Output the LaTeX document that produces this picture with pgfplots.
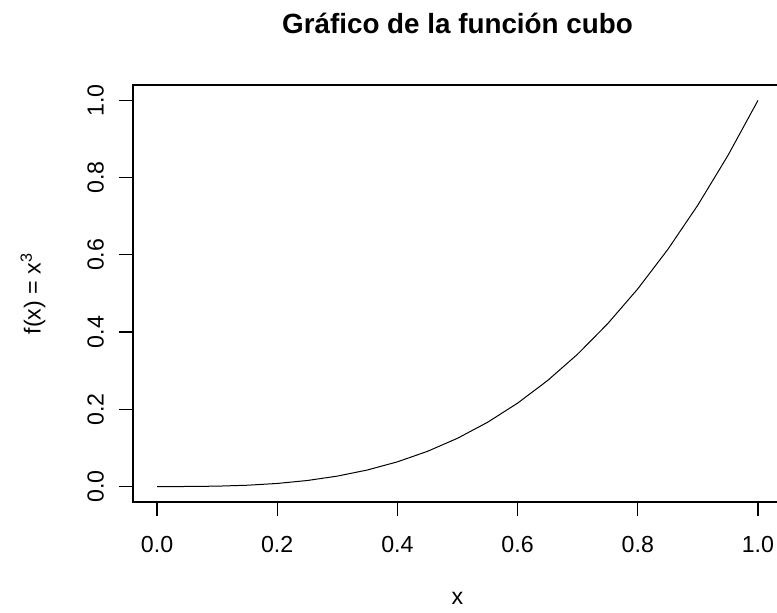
\documentclass[border=0pt]{standalone}
\usepackage{pgfplots}
\pgfplotsset{compat=1.18}
\usepackage{fontspec}
\setmainfont{Liberation Sans}
\begin{document}
\begin{tikzpicture}
% 1 px of the reference = 0.5pt
\begin{axis}[
    at={(66.5pt,55.5pt)}, anchor=south west,
    scale only axis,
    width=324.5pt, height=208.5pt,
    xmin=-0.04, xmax=1.04,
    ymin=-0.04, ymax=1.04,
    xtick={0,0.2,...,1.0}, ytick={0,0.2,...,1.0},
    xtick pos=bottom, ytick pos=left,
    tick align=outside,
    major tick length=7pt,
    axis line style={line width=0.6pt},
    every tick/.style={black, line width=0.6pt},
    /pgf/number format/.cd, fixed, fixed zerofill, precision=1, assume math mode=true,
    /pgfplots/.cd,
    tick label style={font=\fontsize{11.6}{13}\selectfont},
    yticklabel style={rotate=90, anchor=south},
    yticklabel shift=4pt,
    xticklabel style={yshift=-6.5pt},
    title={Gráfico de la función cubo},
    title style={font=\fontsize{13.9}{15}\selectfont\bfseries, at={(axis description cs:0.5,1.12)}, anchor=center},
    xlabel={x},
    xlabel style={font=\fontsize{11.6}{13}\selectfont, at={(axis description cs:0.5,-0.232)}, anchor=center},
    ylabel={f(x) = x\textsuperscript{3}},
    ylabel style={font=\fontsize{11.6}{13}\selectfont, at={(axis description cs:-0.154,0.5)}, anchor=center, rotate=0},
]
\addplot[black, line width=0.5pt] coordinates {
    (0.00,0.000000) (0.05,0.000125) (0.10,0.001000) (0.15,0.003375)
    (0.20,0.008000) (0.25,0.015625) (0.30,0.027000) (0.35,0.042875)
    (0.40,0.064000) (0.45,0.091125) (0.50,0.125000) (0.55,0.166375)
    (0.60,0.216000) (0.65,0.274625) (0.70,0.343000) (0.75,0.421875)
    (0.80,0.512000) (0.85,0.614125) (0.90,0.729000) (0.95,0.857375)
    (1.00,1.000000)
};
\end{axis}
\pgfresetboundingbox
\path[use as bounding box] (0,0) rectangle (388.5pt,306.5pt);
\end{tikzpicture}
\end{document}
